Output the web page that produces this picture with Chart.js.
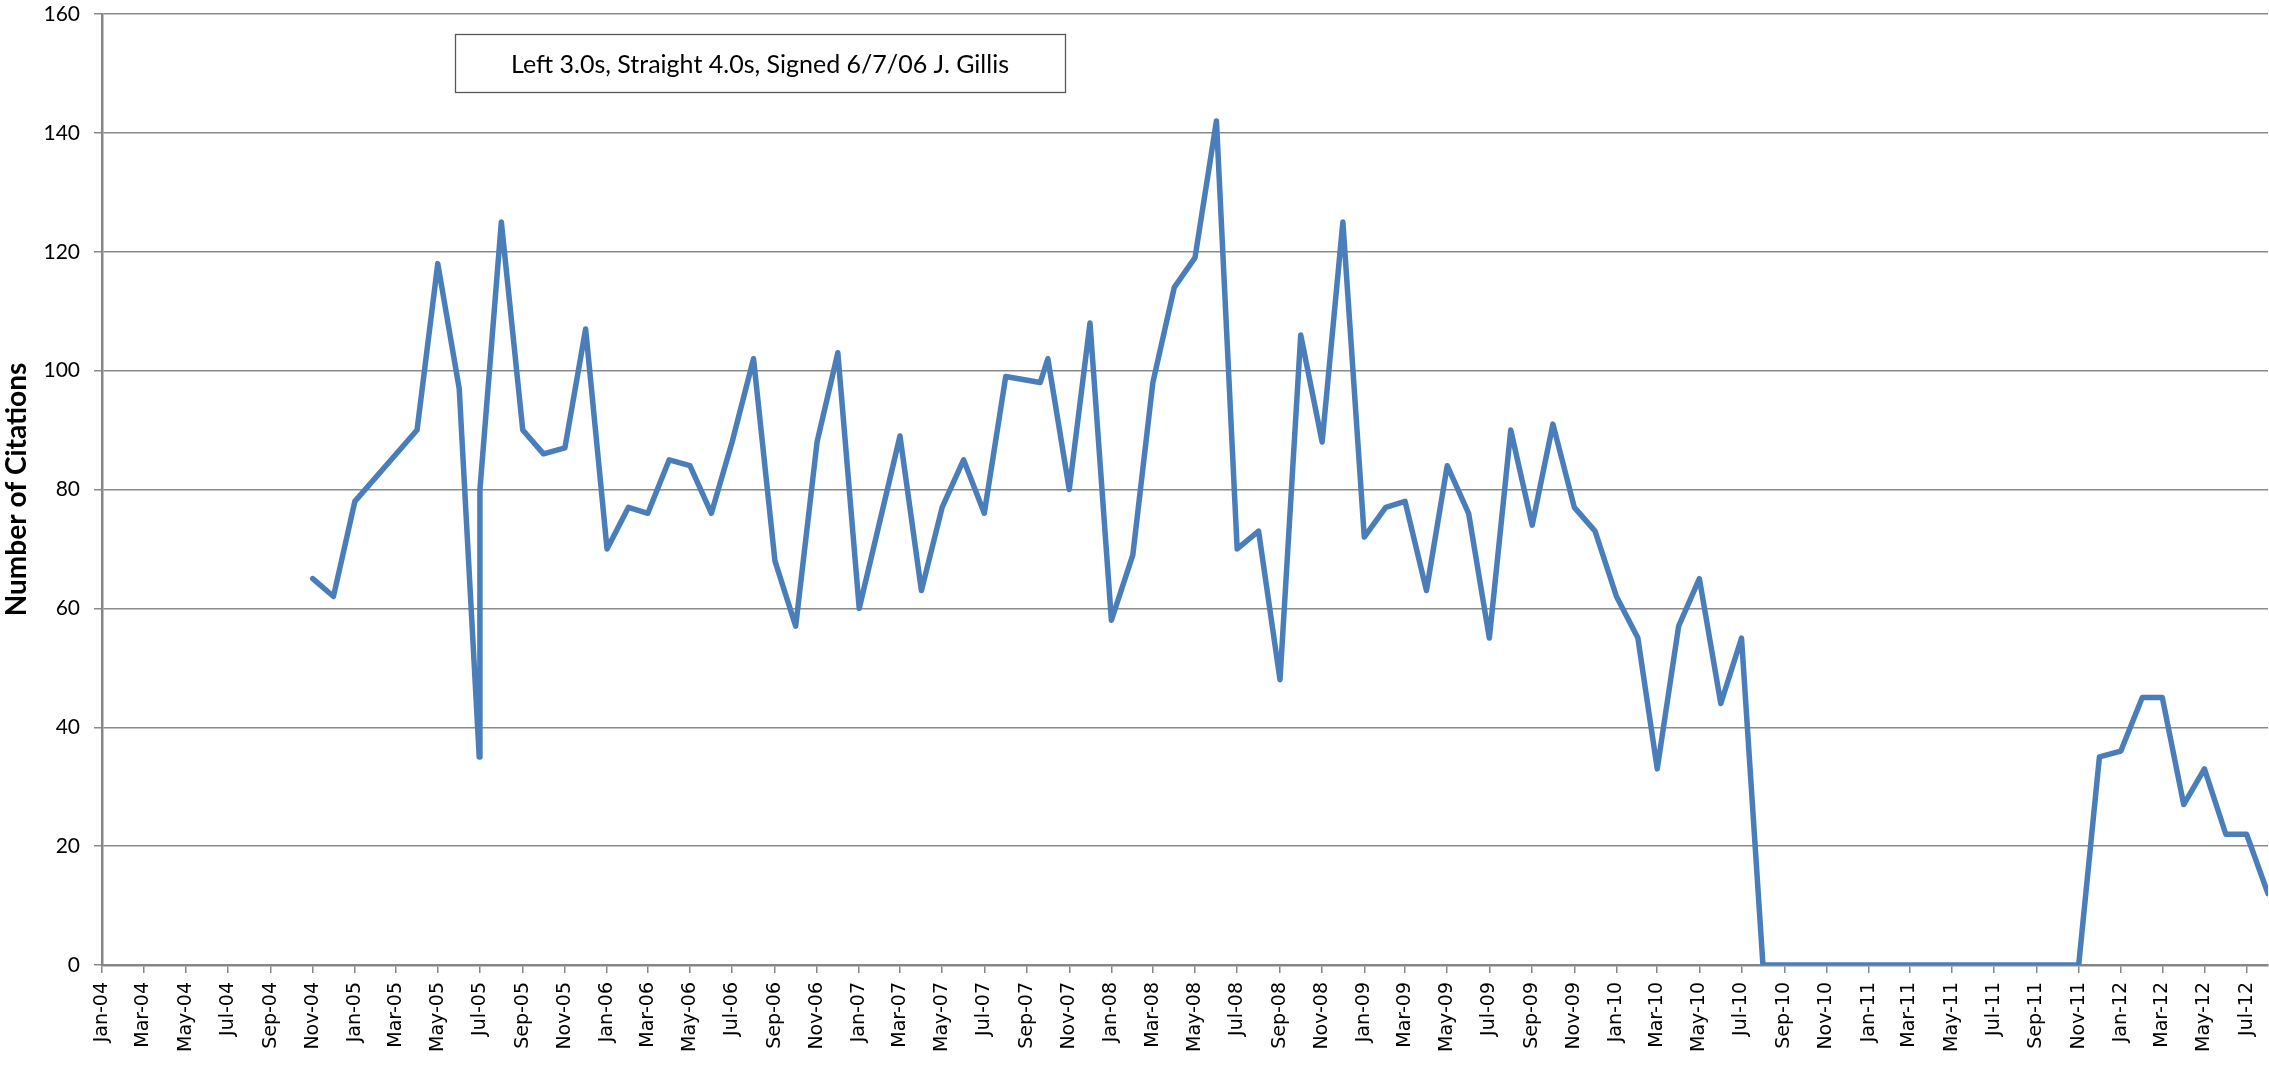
<!DOCTYPE html>
<html>
<head>
<meta charset="utf-8">
<title>Citations</title>
<script src="https://cdn.jsdelivr.net/npm/chart.js@4.4.1/dist/chart.umd.min.js"></script>
<style>
  html, body { margin: 0; padding: 0; background: #fff; }
  #wrap { width: 2269px; height: 1065px; }
</style>
</head>
<body>
<div id="wrap"><canvas id="citeChart" width="2269" height="1065"></canvas></div>
<script>
// data (date of each count, count)
const dates = [
  "2004-11-01", "2004-12-01", "2005-01-01", "2005-04-01", "2005-05-01", "2005-06-01",
  "2005-06-30", "2005-07-01", "2005-08-01", "2005-09-01", "2005-10-01", "2005-11-01", "2005-12-01",
  "2006-01-01", "2006-02-01", "2006-03-01", "2006-04-01", "2006-05-01", "2006-06-01",
  "2006-07-01", "2006-08-01", "2006-09-01", "2006-10-01", "2006-11-01", "2006-12-01",
  "2007-01-01", "2007-03-01", "2007-04-01", "2007-05-01", "2007-06-01", "2007-07-01",
  "2007-08-01", "2007-09-20", "2007-10-01", "2007-11-01", "2007-12-01",
  "2008-01-01", "2008-02-01", "2008-03-01", "2008-04-01", "2008-05-01", "2008-06-01",
  "2008-07-01", "2008-08-01", "2008-09-01", "2008-10-01", "2008-11-01", "2008-12-01",
  "2009-01-01", "2009-02-01", "2009-03-01", "2009-04-01", "2009-05-01", "2009-06-01",
  "2009-07-01", "2009-08-01", "2009-09-01", "2009-10-01", "2009-11-01", "2009-12-01",
  "2010-01-01", "2010-02-01", "2010-03-01", "2010-04-01", "2010-05-01", "2010-06-01",
  "2010-07-01", "2010-08-01", "2010-09-01", "2010-10-01", "2010-11-01", "2010-12-01",
  "2011-01-01", "2011-02-01", "2011-03-01", "2011-04-01", "2011-05-01", "2011-06-01",
  "2011-07-01", "2011-08-01", "2011-09-01", "2011-10-01", "2011-11-01", "2011-12-01",
  "2012-01-01", "2012-02-01", "2012-03-01", "2012-04-01", "2012-05-01", "2012-06-01",
  "2012-07-01", "2012-08-01"
];
const citations = [
  65, 62, 78, 90, 118, 97,
  35, 80, 125, 90, 86, 87, 107,
  70, 77, 76, 85, 84, 76,
  88, 102, 68, 57, 88, 103,
  60, 89, 63, 77, 85, 76,
  99, 98, 102, 80, 108,
  58, 69, 98, 114, 119, 142,
  70, 73, 48, 106, 88, 125,
  72, 77, 78, 63, 84, 76,
  55, 90, 74, 91, 77, 73,
  62, 55, 33, 57, 65, 44,
  55, 0, 0, 0, 0, 0,
  0, 0, 0, 0, 0, 0,
  0, 0, 0, 0, 0, 35,
  36, 45, 45, 27, 33, 22,
  22, 12
];
const xTickLabels = [
  "Jan-04", "Mar-04", "May-04", "Jul-04", "Sep-04", "Nov-04",
  "Jan-05", "Mar-05", "May-05", "Jul-05", "Sep-05", "Nov-05",
  "Jan-06", "Mar-06", "May-06", "Jul-06", "Sep-06", "Nov-06",
  "Jan-07", "Mar-07", "May-07", "Jul-07", "Sep-07", "Nov-07",
  "Jan-08", "Mar-08", "May-08", "Jul-08", "Sep-08", "Nov-08",
  "Jan-09", "Mar-09", "May-09", "Jul-09", "Sep-09", "Nov-09",
  "Jan-10", "Mar-10", "May-10", "Jul-10", "Sep-10", "Nov-10",
  "Jan-11", "Mar-11", "May-11", "Jul-11", "Sep-11", "Nov-11",
  "Jan-12", "Mar-12", "May-12", "Jul-12"
];
const yMin = 0, yMax = 160, yStep = 20;
const yTitle = "Number of Citations";
const noteText = "Left 3.0s, Straight 4.0s, Signed 6/7/06 J. Gillis";

const MONTHS = ["Jan", "Feb", "Mar", "Apr", "May", "Jun", "Jul", "Aug", "Sep", "Oct", "Nov", "Dec"];
const START = Date.UTC(2004, 0, 1);

// days since 1 Jan 2004, so the axis is a real date axis like Excel's
function dayIndex(iso) {
  const p = iso.split("-").map(Number);
  return (Date.UTC(p[0], p[1] - 1, p[2]) - START) / 86400000;
}
function labelToDay(lbl) {
  const p = lbl.split("-");
  return (Date.UTC(2000 + Number(p[1]), MONTHS.indexOf(p[0]), 1) - START) / 86400000;
}

const points = dates.map((d, i) => ({ x: dayIndex(d), y: citations[i] }));

// text box in the upper left of the plot
const notePlugin = {
  id: "noteBox",
  afterDraw(chart) {
    const ctx = chart.ctx;
    ctx.save();
    ctx.fillStyle = "#fff";
    ctx.fillRect(455, 34, 611, 59);
    ctx.strokeStyle = "#595959";
    ctx.lineWidth = 1.3;
    ctx.strokeRect(455.5, 34.5, 610, 58);
    ctx.fillStyle = "#000";
    ctx.font = "25px Lato";
    ctx.textAlign = "center";
    ctx.textBaseline = "alphabetic";
    ctx.fillText(noteText, 760, 73);
    ctx.restore();
  }
};

new Chart(document.getElementById("citeChart"), {
  type: "line",
  data: {
    datasets: [{
      label: yTitle,
      data: points,
      borderColor: "#4A7EBB",
      borderWidth: 5.5,
      borderJoinStyle: "round",
      borderCapStyle: "round",
      pointRadius: 0,
      tension: 0,
      fill: false
    }]
  },
  options: {
    responsive: false,
    animation: false,
    devicePixelRatio: 1,
    layout: { padding: { top: 14, right: 1, left: 0, bottom: 0 } },
    plugins: {
      legend: { display: false },
      tooltip: { enabled: false }
    },
    scales: {
      x: {
        type: "linear",
        min: 0,
        max: dayIndex("2012-08-01"),
        afterBuildTicks(scale) {
          scale.ticks = xTickLabels.map(l => ({ value: labelToDay(l) }));
        },
        ticks: {
          autoSkip: false,
          minRotation: 90,
          maxRotation: 90,
          color: "#000",
          padding: 9,
          font: { family: "DejaVu Sans", size: 19 },
          callback: (v, i) => xTickLabels[i]
        },
        grid: { drawOnChartArea: false, color: "#868686", lineWidth: 1.5, tickLength: 8 },
        border: { color: "#868686", width: 2.5 },
        afterFit(scale) {
          scale.height = 100;
          scale.paddingLeft = 0;
          scale.paddingRight = 0;
        }
      },
      y: {
        min: yMin,
        max: yMax,
        ticks: {
          stepSize: yStep,
          color: "#000",
          padding: 14,
          font: { family: "Lato", size: 21 }
        },
        grid: { color: "#8a8a8a", lineWidth: 1.5, tickLength: 8 },
        border: { color: "#868686", width: 2.5 },
        title: {
          display: true,
          text: yTitle,
          color: "#000",
          padding: { top: 0, bottom: 0 },
          font: { family: "Lato", size: 28, weight: "bold" }
        },
        afterFit(scale) {
          scale.width = 102;
          scale.paddingTop = 0;
          scale.paddingBottom = 0;
        }
      }
    }
  },
  plugins: [notePlugin]
});
</script>
</body>
</html>
